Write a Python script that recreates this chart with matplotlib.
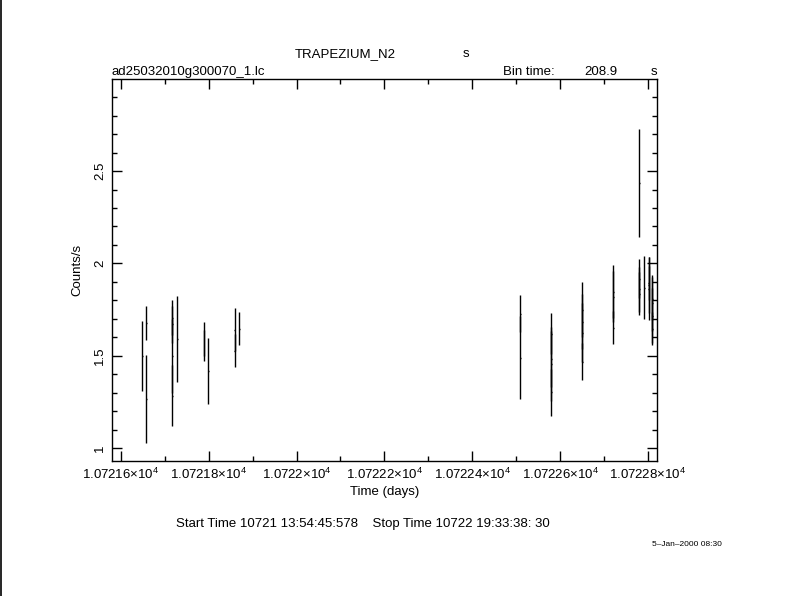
import matplotlib
matplotlib.use("Agg")
import matplotlib.pyplot as plt
from matplotlib.ticker import MultipleLocator, FuncFormatter
from matplotlib.lines import Line2D

plt.rcParams['font.family'] = ['Liberation Sans', 'DejaVu Sans']
plt.rcParams['mathtext.fontset'] = 'custom'
plt.rcParams['mathtext.rm'] = 'Liberation Sans'
plt.rcParams['mathtext.it'] = 'Liberation Sans'

# ---- data (time in days, rate in counts/s, 1-sigma error) ----
time = [10721.6490,
        10721.6581, 10721.6581,
        10721.7172, 10721.7172, 10721.7172, 10721.7172,
        10721.7286,
        10721.7894, 10721.7894,
        10721.7992,
        10721.8592, 10721.8592,
        10721.8697,
        10722.5092, 10722.5092,
        10722.5798, 10722.5798, 10722.5798, 10722.5798,
        10722.6503, 10722.6503, 10722.6503, 10722.6503,
        10722.7209, 10722.7209, 10722.7209,
        10722.7800, 10722.7800, 10722.7800, 10722.7800,
        10722.7914,
        10722.8014, 10722.8014, 10722.8014,
        10722.8096, 10722.8096, 10722.8096, 10722.8096]
rate = [1.50,
        1.68, 1.266,
        1.707, 1.67, 1.50, 1.283,
        1.592,
        1.592, 1.556,
        1.418,
        1.641, 1.527,
        1.647,
        1.728, 1.489,
        1.62, 1.484, 1.457, 1.304,
        1.75, 1.685, 1.625, 1.467,
        1.848, 1.821, 1.652,
        2.435, 1.918, 1.859, 1.837,
        1.869,
        1.893, 1.884, 1.864,
        1.81, 1.786, 1.717, 1.647]
error = [0.189,
         0.092, 0.236,
         0.094, 0.10, 0.20, 0.165,
         0.234,
         0.093, 0.085,
         0.18,
         0.116, 0.089,
         0.091,
         0.10, 0.225,
         0.11, 0.15, 0.20, 0.127,
         0.148, 0.15, 0.16, 0.10,
         0.143, 0.14, 0.089,
         0.29, 0.105, 0.12, 0.116,
         0.171,
         0.092, 0.15, 0.17,
         0.116, 0.15, 0.15, 0.089]
bin_time_s = 208.9
half_bin = bin_time_s / 86400.0 / 2.0

x_range = (10721.580, 10722.8205)

fig = plt.figure(figsize=(7.90, 5.96), dpi=100)
ax = fig.add_axes([112 / 790, 1 - 461 / 596, (657 - 112) / 790, (461 - 79) / 596])

ax.errorbar(time, rate, yerr=error, xerr=half_bin * 0.6, fmt='none', ecolor='black',
            elinewidth=1.0, capsize=0)

ax.set_xlim(*x_range)
ax.set_ylim(0.931, 2.998)

ax.xaxis.set_major_locator(MultipleLocator(0.2))
ax.xaxis.set_minor_locator(MultipleLocator(0.1))
ax.yaxis.set_major_locator(MultipleLocator(0.5))
ax.yaxis.set_minor_locator(MultipleLocator(0.1))


def xfmt(v, pos):
    return f"{v / 1e4:.6g}" + r"×10$^{4}$"


def yfmt(v, pos):
    return f"{v:g}"


ax.xaxis.set_major_formatter(FuncFormatter(xfmt))
ax.yaxis.set_major_formatter(FuncFormatter(yfmt))
ax.tick_params(which='both', direction='in', top=True, right=True, colors='black',
               labelsize=9.5, width=1)
ax.tick_params(which='major', length=7, pad=4)
ax.tick_params(which='minor', length=3.5)
for lab in ax.get_yticklabels():
    lab.set_rotation(90)
    lab.set_va('center')
for s in ax.spines.values():
    s.set_linewidth(1)
    s.set_color('black')

ax.set_xlabel("Time (days)", fontsize=9.5, labelpad=3)
ax.set_ylabel("Counts/s", fontsize=9.5, labelpad=8)

fs = 9.5
fig.text(345 / 790, 1 - 54 / 596, "TRAPEZIUM_N2", ha='center', va='center', fontsize=fs)
fig.text(466 / 790, 1 - 54 / 596, "s", ha='center', va='center', fontsize=fs)
fig.text(112 / 790, 1 - 72 / 596, "ad25032010g300070_1.lc", ha='left', va='center', fontsize=fs)
fig.text(503 / 790, 1 - 72 / 596, "Bin time:", ha='left', va='center', fontsize=fs)
fig.text(617 / 790, 1 - 72 / 596, f"{bin_time_s:g}", ha='right', va='center', fontsize=fs)
fig.text(654 / 790, 1 - 72 / 596, "s", ha='center', va='center', fontsize=fs)
fig.text(176 / 790, 1 - 524 / 596, "Start Time 10721 13:54:45:578    Stop Time 10722 19:33:38: 30",
         ha='left', va='center', fontsize=fs)
fig.text(652 / 790, 1 - 545 / 596, "5\u2013Jan\u20132000 08:30", ha='left', va='center', fontsize=6)

fig.add_artist(Line2D([0.5 / 790, 0.5 / 790], [0, 1], transform=fig.transFigure,
                      color='black', linewidth=1.2))

fig.savefig("out.png", dpi=100, facecolor='white')
